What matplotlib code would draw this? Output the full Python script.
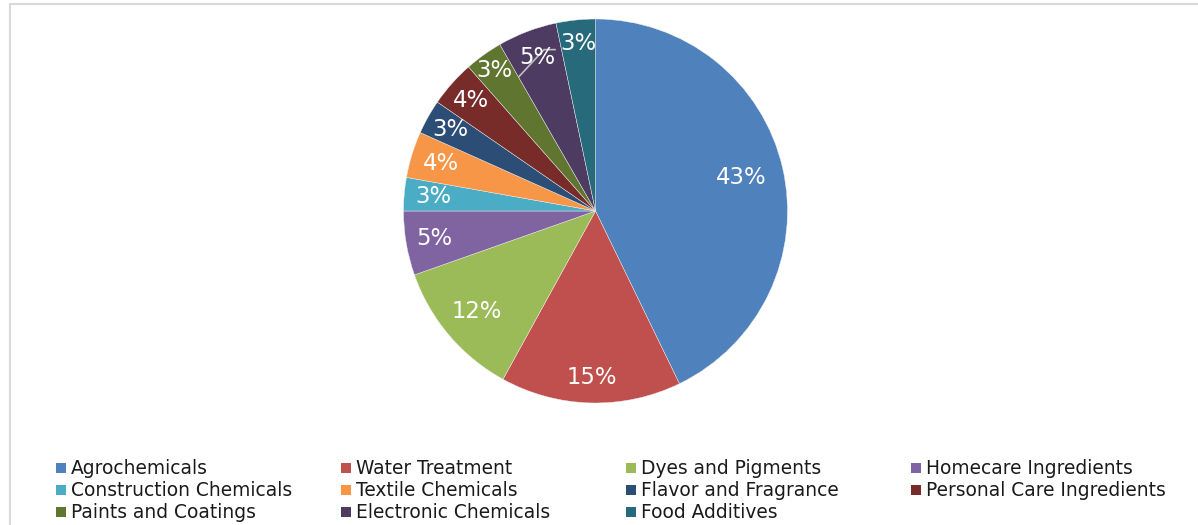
import matplotlib
matplotlib.use("Agg")
import matplotlib.pyplot as plt
from matplotlib.patches import Rectangle
import numpy as np

categories = ["Agrochemicals", "Water Treatment", "Dyes and Pigments", "Homecare Ingredients",
              "Construction Chemicals", "Textile Chemicals", "Flavor and Fragrance",
              "Personal Care Ingredients", "Paints and Coatings", "Electronic Chemicals",
              "Food Additives"]
shares = [42.8, 15.2, 11.6, 5.4, 2.8, 3.9, 2.9, 3.9, 3.2, 5.0, 3.3]
colors = ["#4F81BD", "#C0504D", "#9BBB59", "#8064A2", "#4BACC6", "#F79646",
          "#2C4D75", "#772C2A", "#5F7530", "#4D3B62", "#276A7C"]
label_frac = [0.78, 0.865, 0.81, 0.85, 0.85, 0.84, 0.87, 0.87, 0.90, 0.855, 0.875]

W, H = 1198, 525
fig = plt.figure(figsize=(W / 100, H / 100), dpi=100)
fig.patch.set_facecolor("white")
ax = fig.add_axes([0, 0, 1, 1])

cx, cy, r = 595.5, H - 211, 192
wedges, _ = ax.pie(shares, colors=colors, startangle=90, counterclock=False,
                   center=(cx, cy), radius=r, frame=True,
                   wedgeprops=dict(edgecolor="#F2F2F2", linewidth=0.3))
ax.set_xlim(0, W)
ax.set_ylim(0, H)
ax.axis("off")

# chart frame
ax.add_patch(Rectangle((9.5, -10), W + 20, H - 3.5 + 10, fill=False,
                       edgecolor="#D9D9D9", linewidth=1.5))

total = sum(shares)
for w, v, f in zip(wedges, shares, label_frac):
    ang = np.deg2rad((w.theta1 + w.theta2) / 2)
    x = cx + f * r * np.cos(ang)
    y = cy + f * r * np.sin(ang)
    txt = f"{round(v / total * 100):.0f}%"
    ax.text(x, y, txt, ha="center", va="center", color="white", fontsize=16.4,
            family="DejaVu Sans", zorder=5)
    if w is wedges[9]:
        ax.plot([x - 18, x + 7, x + 18], [y - 19, y + 8, y + 8],
                color="#BFBFBF", linewidth=1.2, zorder=4)

# legend grid
x0, y0 = 56, 468
dx, dy = 285, 22
for i, (name, col) in enumerate(zip(categories, colors)):
    row, c = divmod(i, 4)
    lx = x0 + c * dx
    ly = H - (y0 + row * dy)
    ax.add_patch(Rectangle((lx, ly - 5), 10, 10, facecolor=col, edgecolor="none"))
    ax.text(lx + 15, ly, name, ha="left", va="center", fontsize=13.4,
            color="#1A1A1A", family="DejaVu Sans")

fig.savefig("out.png", dpi=100, facecolor="white")
